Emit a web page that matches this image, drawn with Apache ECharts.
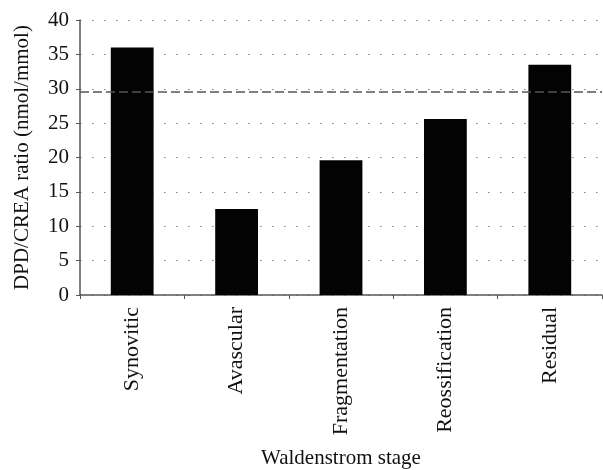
<!DOCTYPE html>
<html>
<head>
<meta charset="utf-8">
<script src="https://cdn.jsdelivr.net/npm/echarts@6/dist/echarts.min.js"></script>
<style>
  html, body { margin: 0; padding: 0; background: #fff; }
  #chart { width: 603px; height: 470px; }
</style>
</head>
<body>
<div id="chart"></div>
<script>
// stages on the x axis
const stages = ['Synovitic', 'Avascular', 'Fragmentation', 'Reossification', 'Residual'];
// DPD/CREA ratio per stage
const ratios = [36, 12.5, 19.6, 25.6, 33.5];
// horizontal reference line (dashed)
const refLine = 29.6;
const yTicks = { min: 0, max: 40, interval: 5 };

const font = 'Liberation Serif';
const chart = echarts.init(document.getElementById('chart'));

chart.setOption({
  backgroundColor: '#fff',
  animation: false,
  grid: { left: 80, right: 1, top: 20, bottom: 175, outerBoundsMode: 'none', containLabel: false },
  xAxis: {
    type: 'category',
    data: stages,
    name: 'Waldenstrom stage',
    nameLocation: 'middle',
    nameGap: 153,
    nameTextStyle: { fontFamily: font, fontSize: 21, color: '#111' },
    axisLine: { lineStyle: { color: '#555', width: 1.5 } },
    axisTick: { show: true, length: 4, lineStyle: { color: '#555' } },
    axisLabel: { rotate: 90, fontFamily: font, fontSize: 22, color: '#111', margin: 12 },
    splitLine: { show: false }
  },
  yAxis: {
    type: 'value',
    min: yTicks.min,
    max: yTicks.max,
    interval: yTicks.interval,
    name: 'DPD/CREA ratio (nmol/mmol)',
    nameLocation: 'middle',
    nameGap: 47,
    nameTextStyle: { fontFamily: font, fontSize: 21, color: '#111' },
    axisLine: { show: true, lineStyle: { color: '#555', width: 1.5 } },
    axisTick: { show: true, length: 4, lineStyle: { color: '#555' } },
    axisLabel: { fontFamily: font, fontSize: 21, color: '#111', margin: 11 },
    splitLine: { show: true, lineStyle: { color: '#888', type: [1.5, 10.5], width: 1.2 } }
  },
  series: [{
    type: 'bar',
    data: ratios,
    barWidth: '41%',
    itemStyle: { color: '#030303' },
    markLine: {
      silent: true,
      symbol: 'none',
      label: { show: false },
      lineStyle: { color: '#555', type: [9, 4], width: 1.5 },
      data: [{ yAxis: refLine }]
    }
  }]
});
</script>
</body>
</html>
